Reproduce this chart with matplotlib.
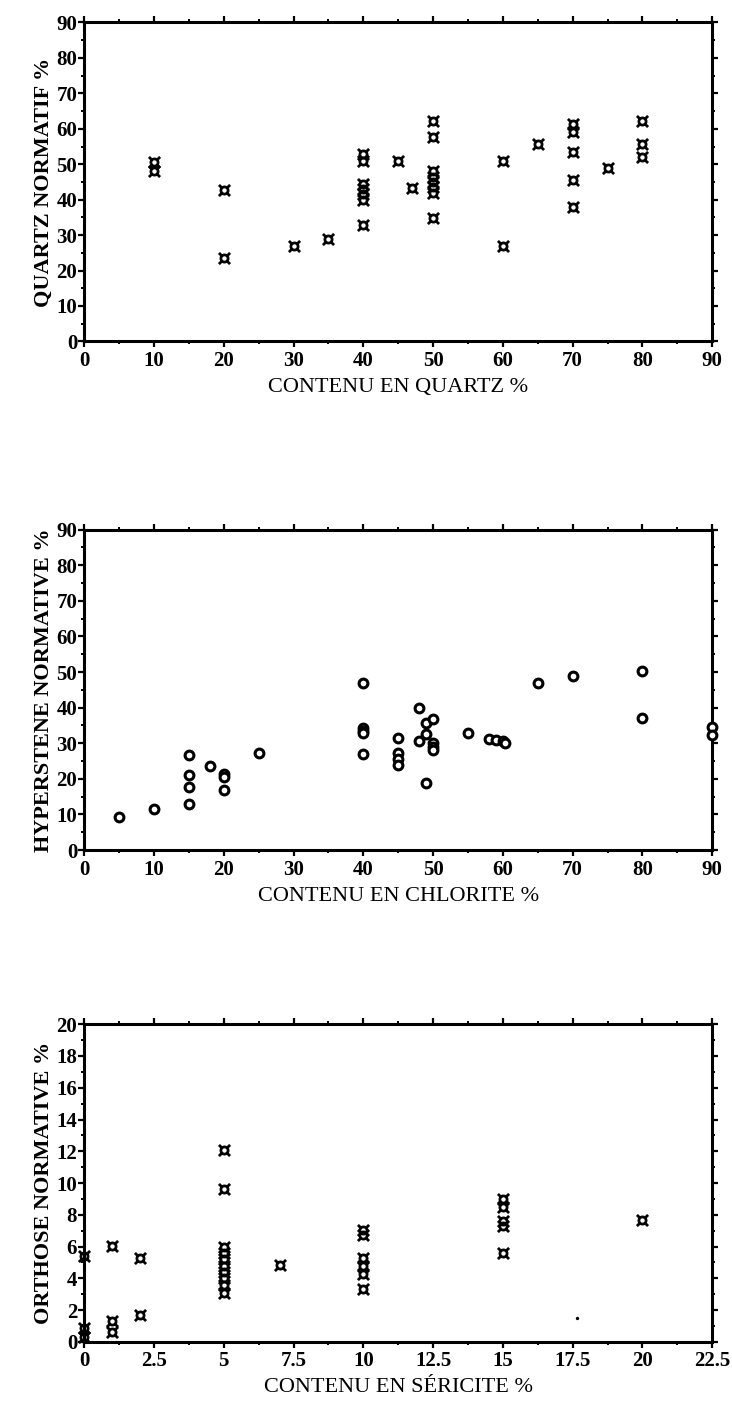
import matplotlib
matplotlib.use("Agg")
import matplotlib.pyplot as plt
from matplotlib.ticker import MultipleLocator, FormatStrFormatter
import numpy as np

plt.rcParams['font.family'] = ['Liberation Serif', 'DejaVu Serif']
plt.rcParams['mathtext.fontset'] = 'dejavusans'

# panel 1 : quartz
qz_x = [10, 10, 20, 20, 30, 35,
        40, 40, 40, 40, 40, 40, 40,
        45, 47,
        50, 50, 50, 50, 50, 50, 50, 50,
        60, 60, 65,
        70, 70, 70, 70, 70,
        75, 80, 80, 80]
qz_y = [50.5, 48, 42.8, 23.4, 26.9, 28.9,
        32.8, 40, 41.5, 43, 44.5, 51, 53,
        50.8, 43.3,
        62.2, 57.7, 48, 46.5, 45, 43.5, 42, 34.7,
        50.8, 26.9, 55.8,
        61.4, 59, 53.4, 45.5, 38,
        48.9, 62.2, 55.8, 52.1]

# panel 2 : chlorite
ch_x = [5, 10, 15, 15, 15, 15, 18, 20, 20, 20, 25,
        40, 40, 40, 40, 40, 45, 45, 45, 45,
        48, 48, 49, 49, 49, 50, 50, 50, 50,
        55, 58, 59, 60, 60.3, 65, 70, 80, 80, 90, 90]
ch_y = [9.3, 11.4, 26.8, 21, 17.7, 13, 23.5, 21.3, 20.5, 16.8, 27.3,
        47, 34.3, 33.3, 32.8, 27, 31.6, 27.3, 25.6, 23.8,
        39.8, 30.5, 35.8, 32.7, 18.9, 36.8, 30, 29, 28.2,
        32.9, 31.2, 30.8, 30.5, 30.2, 47, 49, 50.4, 37.2, 34.6, 32.2]

# panel 3 : sericite
se_x = [0, 0, 0, 1, 1, 1, 2, 2,
        5, 5, 5, 5, 5, 5, 5, 5, 5, 5,
        7, 10, 10, 10, 10, 10, 10,
        15, 15, 15, 15, 15, 20]
se_y = [5.4, 0.85, 0.3, 6.05, 1.3, 0.6, 5.3, 1.7,
        12.1, 9.6, 6.0, 5.6, 5.2, 4.8, 4.4, 4.0, 3.6, 3.1,
        4.85, 7.05, 6.7, 5.3, 4.8, 4.3, 3.3,
        9.0, 8.5, 7.6, 7.3, 5.6, 7.7]
dot_x = [17.66]
dot_y = [1.47]

fig = plt.figure(figsize=(7.32, 14.05), dpi=100)

def style(ax, xmax, xmaj, xmin, ymax, ymaj, ymin, xlab, ylab, fmt):
    ax.set_xlim(0, xmax)
    ax.set_ylim(0, ymax)
    ax.xaxis.set_major_locator(MultipleLocator(xmaj))
    ax.xaxis.set_minor_locator(MultipleLocator(xmin))
    ax.yaxis.set_major_locator(MultipleLocator(ymaj))
    ax.yaxis.set_minor_locator(MultipleLocator(ymin))
    ax.xaxis.set_major_formatter(FormatStrFormatter(fmt))
    for s in ax.spines.values():
        s.set_linewidth(2.2)
    ax.tick_params(which='major', direction='out', length=4, width=1.6,
                   top=True, right=True, labelsize=15, pad=1)
    ax.tick_params(axis='x', which='major', pad=3)
    ax.tick_params(which='minor', direction='out', length=2.5, width=1.4,
                   top=True, right=True)
    for lab in ax.get_xticklabels() + ax.get_yticklabels():
        lab.set_fontweight('bold')
    ax.set_xlabel(xlab, fontsize=16, labelpad=5)
    ax.set_ylabel(ylab, fontsize=16, labelpad=2, fontweight='bold')

ax1 = fig.add_axes([0.115, 0.757, 0.858, 0.227])
ax1.scatter(qz_x, qz_y, marker='$¤$', s=70, c='black', linewidths=0.8, clip_on=False)
style(ax1, 90, 10, 5, 90, 10, 5, 'CONTENU EN QUARTZ %', 'QUARTZ NORMATIF %', '%g')

ax2 = fig.add_axes([0.115, 0.395, 0.858, 0.228])
ax2.scatter(ch_x, ch_y, marker='o', s=40, facecolors='white', edgecolors='black',
            linewidths=2.2, clip_on=False, zorder=3)
style(ax2, 90, 10, 5, 90, 10, 5, 'CONTENU EN CHLORITE %', 'HYPERSTENE NORMATIVE %', '%g')

ax3 = fig.add_axes([0.115, 0.045, 0.858, 0.226])
ax3.scatter(se_x, se_y, marker='$¤$', s=70, c='black', linewidths=0.8, clip_on=False)
ax3.scatter(dot_x, dot_y, marker='.', s=8, c='black')
style(ax3, 22.5, 2.5, 1.25, 20, 2, 1, 'CONTENU EN SÉRICITE %', 'ORTHOSE NORMATIVE %', '%g')

fig.savefig('out.png', dpi=100)
